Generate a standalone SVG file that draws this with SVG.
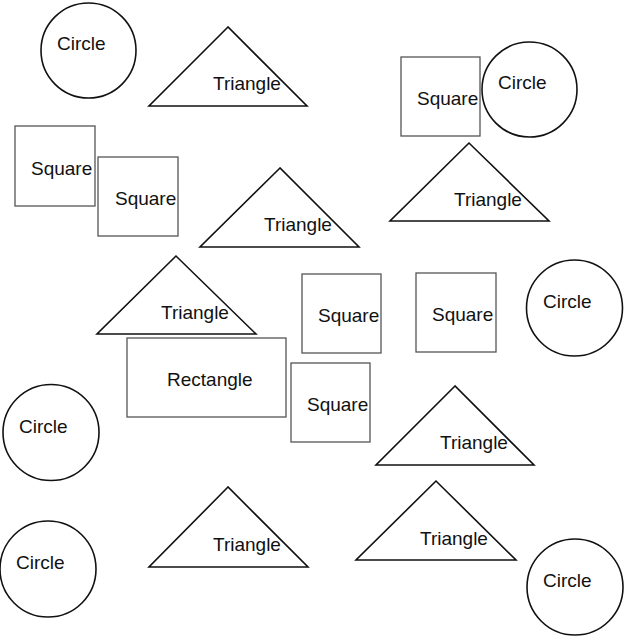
<svg xmlns="http://www.w3.org/2000/svg" width="640" height="640" viewBox="0 0 640 640">
<style>
.c{fill:#fff;stroke:#111;stroke-width:1.6}
.t{fill:#fff;stroke:#111;stroke-width:1.6;stroke-linejoin:miter}
.s{fill:#fff;stroke:#555;stroke-width:1.3}
text{font-family:"Liberation Sans",Arial,sans-serif;font-size:19px;fill:#111}
</style>
<rect width="640" height="640" fill="#fff"/>
<g id="circle1"><circle class="c" cx="88.5" cy="50.5" r="47.5"/><text x="57" y="50">Circle</text></g>
<g id="triangle1"><polygon class="t" points="228,27 149,106 307,106"/><text x="213" y="90">Triangle</text></g>
<g id="square3"><rect class="s" x="401" y="57" width="79" height="79"/><text x="417" y="105">Square</text></g>
<g id="circle2"><circle class="c" cx="529.5" cy="89.5" r="47.5"/><text x="498" y="89">Circle</text></g>
<g id="square1"><rect class="s" x="15" y="126" width="80" height="80"/><text x="31" y="175">Square</text></g>
<g id="square2"><rect class="s" x="98" y="157" width="80" height="79"/><text x="115" y="205">Square</text></g>
<g id="triangle3"><polygon class="t" points="469,143 390,221 549,221"/><text x="454" y="206">Triangle</text></g>
<g id="triangle2"><polygon class="t" points="280,168 200,247 359,247"/><text x="264" y="231">Triangle</text></g>
<g id="triangle4"><polygon class="t" points="176,256 97,334 256,334"/><text x="161" y="319">Triangle</text></g>
<g id="square4"><rect class="s" x="302" y="274" width="79" height="79"/><text x="318" y="322">Square</text></g>
<g id="square5"><rect class="s" x="416" y="273" width="80" height="79"/><text x="432" y="321">Square</text></g>
<g id="circle4"><circle class="c" cx="574.5" cy="308" r="48"/><text x="543" y="308">Circle</text></g>
<g id="rectangle"><rect class="s" x="127" y="338" width="159" height="79"/><text x="167" y="386">Rectangle</text></g>
<g id="square6"><rect class="s" x="291" y="363" width="79" height="79"/><text x="307" y="411">Square</text></g>
<g id="circle3"><circle class="c" cx="51" cy="432.5" r="48"/><text x="19" y="433">Circle</text></g>
<g id="triangle5"><polygon class="t" points="455,386 376,465 534,465"/><text x="440" y="449">Triangle</text></g>
<g id="triangle6"><polygon class="t" points="228,487 149,567 308,567"/><text x="213" y="551">Triangle</text></g>
<g id="triangle7"><polygon class="t" points="436,481 356,560 516,560"/><text x="420" y="545">Triangle</text></g>
<g id="circle5"><circle class="c" cx="48" cy="569" r="48"/><text x="16" y="569">Circle</text></g>
<g id="circle6"><circle class="c" cx="575" cy="587" r="48"/><text x="543" y="587">Circle</text></g>
<g id="connectors"></g>
</svg>
